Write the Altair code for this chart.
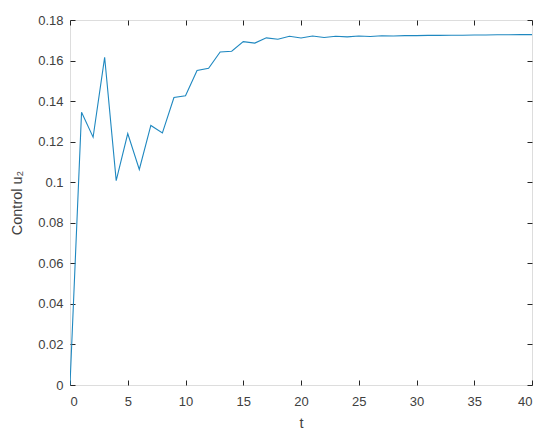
import altair as alt
import pandas as pd

t_values = list(range(0, 41))
u2_values = [0.0, 0.1345, 0.1222, 0.1616, 0.1008, 0.1240, 0.1063, 0.1280, 0.1243, 0.1418,
             0.1426, 0.1551, 0.1562, 0.1642, 0.1646, 0.1693, 0.1686, 0.1712, 0.1705, 0.1720,
             0.1711, 0.1721, 0.1714, 0.1720, 0.1717, 0.1721, 0.1719, 0.1722, 0.1721, 0.1723,
             0.1723, 0.1724, 0.1724, 0.1725, 0.1725, 0.1726, 0.1726, 0.1727, 0.1727, 0.1728,
             0.1728]
x_ticks = [0, 5, 10, 15, 20, 25, 30, 35, 40]
y_ticks = [0, 0.02, 0.04, 0.06, 0.08, 0.1, 0.12, 0.14, 0.16, 0.18]

df = pd.DataFrame({"t": t_values, "u2": u2_values})

W, H = 462, 365
TICK = 5
FONT = "Liberation Sans"
TXT = "#404040"

chart = alt.Chart(df).mark_line(color="#1f88c0", strokeWidth=1.1, clip=True).encode(
    x=alt.X("t:Q", scale=alt.Scale(domain=[0, 40], nice=False, zero=False),
            axis=alt.Axis(values=x_ticks, title="t", grid=True,
                          gridDash=[TICK, H - 2 * TICK, TICK, 0], gridColor="#262626",
                          gridWidth=1, gridOpacity=1,
                          ticks=False, domain=False, labelPadding=10,
                          labelFont=FONT, labelFontSize=13, labelColor=TXT,
                          titleFont=FONT, titleFontSize=14.5, titleColor=TXT,
                          titleFontWeight="normal", titlePadding=8)),
    y=alt.Y("u2:Q", scale=alt.Scale(domain=[0, 0.18], nice=False),
            axis=alt.Axis(values=y_ticks, title="Control u\u2082", format="~g", grid=True,
                          gridDash=[TICK, W - 2 * TICK, TICK, 0], gridColor="#262626",
                          gridWidth=1, gridOpacity=1,
                          ticks=False, domain=False, labelPadding=7,
                          labelFont=FONT, labelFontSize=13, labelColor=TXT,
                          titleFont=FONT, titleFontSize=14.5, titleColor=TXT,
                          titleFontWeight="normal", titleX=-49, titleBaseline="alphabetic")),
).properties(
    width=W, height=H,
    autosize=alt.AutoSizeParams(type="none"),
    padding={"left": 62, "top": 12, "right": 10, "bottom": 48},
).configure_view(stroke="#262626", strokeWidth=1).configure(background="white")

chart.save("out.html", embed_options={"renderer": "svg", "actions": False})
